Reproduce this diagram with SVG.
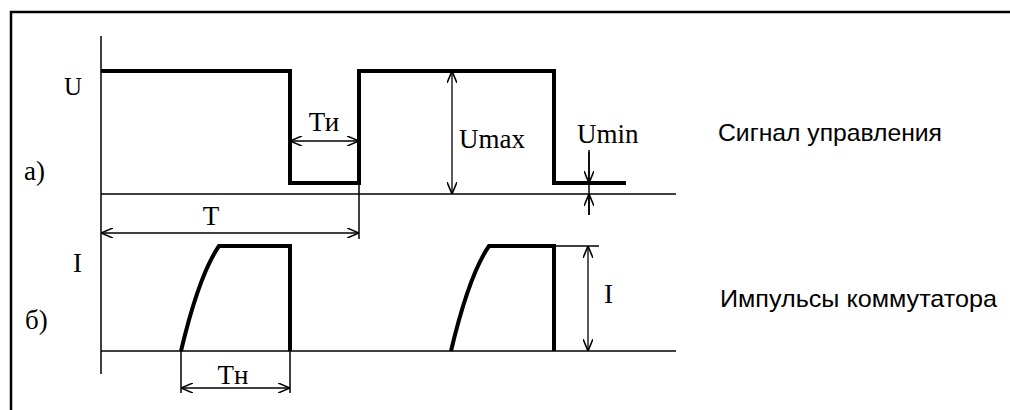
<svg xmlns="http://www.w3.org/2000/svg" width="1010" height="410" viewBox="0 0 1010 410">
<defs>
<marker id="ah" viewBox="0 0 12 10" refX="12" refY="5" markerWidth="12" markerHeight="10" markerUnits="userSpaceOnUse" orient="auto-start-reverse">
<path d="M0,0 L12,5 L0,10" fill="none" stroke="#000" stroke-width="1.6"/>
</marker>
<style>
.thin{stroke:#000;stroke-width:1.5;fill:none}
.thick{stroke:#000;stroke-width:4;fill:none;stroke-linejoin:miter}
.dim{stroke:#000;stroke-width:1.3;fill:none;marker-start:url(#ah);marker-end:url(#ah)}
.serif{font-family:"Liberation Serif","Times New Roman",serif;font-size:27px;fill:#000}
.sans{font-family:"Liberation Sans",Arial,sans-serif;font-size:24px;fill:#000}
</style>
</defs>
<rect width="1010" height="410" fill="#fff"/>
<g id="frame">
<path d="M1010,12 H11 V410" stroke="#000" stroke-width="2.5" fill="none"/>
</g>
<g id="axes">
<line class="thin" x1="101" y1="36" x2="101" y2="374"/>
<line class="thin" x1="101" y1="194" x2="676" y2="194"/>
<line class="thin" x1="101" y1="351" x2="676" y2="351"/>
</g>
<g id="signal-a">
<path class="thick" d="M101,71 H290 V183 H359 V71 H554 V183 H626"/>
</g>
<g id="pulses-b">
<path class="thick" d="M181,351 Q199,275 219,246 H290 V351"/>
<path class="thick" d="M451,351 Q469,275 489,246 H554 V351"/>
</g>
<g id="connectors">
<line class="thin" x1="359" y1="183" x2="359" y2="239"/>
<line class="dim" x1="290" y1="141" x2="359" y2="141"/>
<line class="dim" x1="101" y1="233" x2="359" y2="233"/>
<line class="dim" x1="452" y1="71" x2="452" y2="194"/>
<line class="thin" x1="589" y1="150" x2="589" y2="215"/>
<line class="thin" x1="589" y1="152" x2="589" y2="183" marker-end="url(#ah)"/>
<line class="thin" x1="589" y1="215" x2="589" y2="194" marker-end="url(#ah)"/>
<line class="thin" x1="554" y1="246" x2="599" y2="246"/>
<line class="dim" x1="588" y1="246" x2="588" y2="351"/>
<line class="thin" x1="181" y1="351" x2="181" y2="393"/>
<line class="thin" x1="290" y1="351" x2="290" y2="393"/>
<line class="dim" x1="181" y1="388" x2="290" y2="388"/>
</g>
<g id="labels">
<text class="serif" x="64" y="95" style="font-size:25px">U</text>
<text class="serif" x="24" y="180">а)</text>
<text class="serif" x="324" y="131" text-anchor="middle">Ти</text>
<text class="serif" x="211" y="225" text-anchor="middle">T</text>
<text class="serif" x="459" y="148">Umax</text>
<text class="serif" x="577" y="143">Umin</text>
<text class="serif" x="73" y="272">I</text>
<text class="serif" x="25" y="329">б)</text>
<text class="serif" x="604" y="303">I</text>
<text class="serif" x="233" y="384" text-anchor="middle">Тн</text>
<text class="sans" x="718" y="141" textLength="224" lengthAdjust="spacingAndGlyphs">Сигнал управления</text>
<text class="sans" x="720" y="307" textLength="277" lengthAdjust="spacingAndGlyphs">Импульсы коммутатора</text>
</g>
</svg>
